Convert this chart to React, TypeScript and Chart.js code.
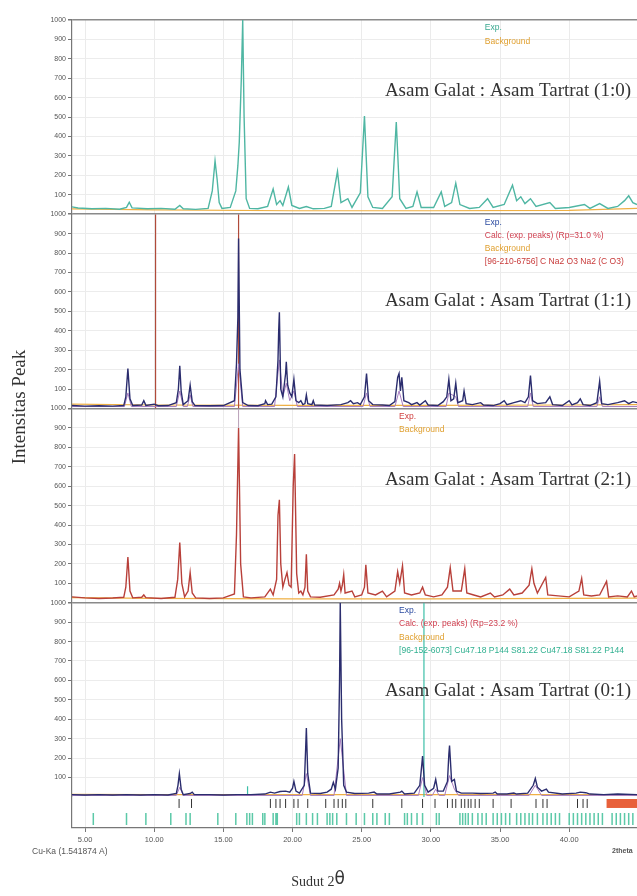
import React, { useEffect, useRef } from 'react';
import { Chart, registerables } from 'chart.js';

Chart.register(...registerables);

type P = [number, number];

// ---------- DATA (2θ, intensity) ----------
const xTickValues = [5, 10, 15, 20, 25, 30, 35, 40];
const yTickValues = [100, 200, 300, 400, 500, 600, 700, 800, 900, 1000];

const panelLabels = [
  'Asam Galat : Asam Tartrat (1:0)',
  'Asam Galat : Asam Tartrat (1:1)',
  'Asam Galat : Asam Tartrat (2:1)',
  'Asam Galat : Asam Tartrat (0:1)',
];

// Panel 1 (1:0)
const p1Exp: P[] = [
  [4.06, 38], [4.5, 32], [5.5, 28], [6.5, 30], [7.5, 26], [8.0, 35], [8.2, 62], [8.4, 33], [9.5, 28], [10.5, 30],
  [11.5, 26], [11.85, 45], [12.1, 28], [13.0, 25], [13.9, 30], [14.2, 120], [14.4, 275], [14.55, 180], [14.7, 60],
  [14.9, 30], [15.5, 35], [15.9, 120], [16.05, 250], [16.15, 370], [16.3, 700], [16.4, 1000], [16.5, 500], [16.65, 80],
  [16.9, 30], [17.5, 28], [18.2, 40], [18.6, 130], [18.85, 50], [19.1, 70], [19.3, 45], [19.7, 140], [19.95, 45],
  [20.5, 30], [21.0, 40], [21.5, 28], [22.3, 30], [22.8, 40], [23.25, 220], [23.5, 60], [24.0, 80], [24.3, 35],
  [24.9, 110], [25.2, 505], [25.45, 90], [25.8, 35], [26.5, 30], [27.2, 90], [27.5, 475], [27.75, 80], [28.2, 30],
  [28.7, 40], [29.0, 115], [29.3, 35], [30.2, 35], [30.75, 115], [31.0, 40], [31.5, 60], [31.8, 160], [32.1, 50],
  [32.8, 30], [33.5, 35], [34.1, 80], [34.5, 35], [35.3, 50], [35.9, 150], [36.2, 70], [36.5, 90], [36.8, 55],
  [37.2, 80], [37.6, 40], [38.6, 60], [39.0, 30], [40.0, 35], [41.1, 50], [41.5, 30], [42.2, 55], [42.8, 30],
  [43.5, 40], [44.0, 70], [44.3, 95], [44.6, 60], [44.9, 50],
];
const p1Bg: P[] = [[4.06, 28], [10, 22], [20, 18], [30, 18], [40, 20], [44.9, 30]];

// Panel 2 (1:1)
const p2Exp: P[] = [
  [4.06, 15], [5, 12], [6, 14], [7, 12], [7.8, 15], [7.95, 60], [8.1, 205], [8.25, 50], [8.45, 15], [9.1, 18],
  [9.25, 40], [9.4, 16], [10.0, 22], [10.3, 14], [11.0, 15], [11.6, 30], [11.75, 100], [11.85, 220], [11.95, 90],
  [12.1, 20], [12.45, 40], [12.6, 120], [12.75, 35], [12.95, 15], [14.0, 14], [15.0, 15], [15.8, 40], [15.95, 230],
  [16.05, 470], [16.1, 875], [16.2, 200], [16.4, 30], [16.8, 15], [17.5, 14], [18.0, 25], [18.05, 40], [18.2, 20],
  [18.5, 22], [18.8, 60], [18.95, 250], [19.0, 400], [19.05, 495], [19.15, 100], [19.3, 60], [19.5, 180], [19.55, 240],
  [19.65, 120], [19.8, 80], [19.95, 60], [20.1, 150], [20.25, 40], [20.45, 30], [20.6, 40], [20.75, 20], [20.9, 25],
  [21.0, 70], [21.1, 25], [21.4, 20], [21.5, 40], [21.6, 18], [22.5, 15], [23.5, 20], [24.0, 30], [24.2, 40],
  [24.4, 25], [24.7, 30], [24.9, 20], [25.2, 60], [25.35, 180], [25.5, 40], [25.8, 20], [26.5, 18], [27.0, 15],
  [27.4, 35], [27.6, 160], [27.7, 180], [27.8, 90], [27.9, 160], [28.05, 40], [28.4, 30], [28.6, 20], [29.0, 30],
  [29.2, 18], [29.6, 40], [29.8, 18], [30.5, 15], [30.9, 35], [31.15, 60], [31.3, 150], [31.45, 40], [31.65, 50],
  [31.8, 130], [31.95, 30], [32.3, 40], [32.4, 90], [32.55, 25], [33.0, 20], [33.6, 30], [33.8, 18], [34.5, 15],
  [35.0, 25], [35.3, 40], [35.5, 20], [36.0, 30], [36.5, 40], [36.8, 30], [37.05, 60], [37.2, 170], [37.35, 40],
  [37.7, 25], [38.3, 30], [38.6, 60], [38.8, 20], [39.5, 15], [40.0, 40], [40.2, 18], [40.6, 30], [40.8, 50],
  [41.0, 20], [41.5, 15], [42.0, 30], [42.2, 140], [42.35, 25], [42.8, 20], [43.5, 30], [44.0, 40], [44.3, 25],
  [44.6, 35], [44.9, 30],
];
const p2Calc: P[] = [
  [4.06, 10], [7.85, 10], [8.1, 80], [8.35, 10], [11.6, 10], [11.85, 90], [12.1, 10], [12.4, 10], [12.6, 70],
  [12.8, 10], [15.8, 10], [16.1, 230], [16.4, 10], [18.7, 10], [19.05, 250], [19.3, 60], [19.55, 130], [19.8, 40],
  [20.1, 90], [20.35, 10], [25.1, 10], [25.35, 80], [25.6, 10], [27.4, 10], [27.7, 90], [28.0, 10], [31.1, 10],
  [31.3, 80], [31.8, 60], [32.0, 10], [37.0, 10], [37.2, 80], [37.4, 10], [42.0, 10], [42.2, 60], [42.4, 10], [44.9, 10],
];
const p2Bg: P[] = [[4.06, 22], [10, 18], [20, 16], [30, 16], [40, 18], [44.9, 20]];
const p2RefLines = [10.1, 16.1];

// Panel 3 (2:1)
const p3Exp: P[] = [
  [4.06, 30], [5, 25], [6, 22], [7, 24], [7.8, 28], [7.95, 80], [8.1, 235], [8.25, 60], [8.45, 25], [9.1, 28],
  [9.25, 40], [9.4, 26], [10.5, 22], [11.5, 28], [11.7, 120], [11.85, 310], [12.0, 100], [12.2, 30], [12.45, 60],
  [12.6, 155], [12.75, 50], [13.0, 25], [14.0, 22], [15.0, 25], [15.8, 45], [15.95, 350], [16.1, 900], [16.25, 200],
  [16.45, 30], [17.0, 25], [18.0, 30], [18.4, 70], [18.6, 40], [18.85, 120], [18.95, 450], [19.05, 530], [19.15, 200],
  [19.3, 80], [19.45, 120], [19.6, 155], [19.75, 90], [19.9, 80], [20.05, 600], [20.15, 765], [20.3, 150], [20.45, 50],
  [20.6, 60], [20.75, 40], [20.9, 80], [21.0, 250], [21.1, 60], [21.3, 30], [22.0, 28], [23.0, 40], [23.3, 70],
  [23.4, 100], [23.5, 60], [23.6, 90], [23.7, 145], [23.8, 50], [24.3, 60], [24.5, 30], [25.0, 40], [25.2, 80],
  [25.3, 195], [25.45, 50], [26.0, 40], [26.5, 60], [26.8, 30], [27.4, 60], [27.6, 160], [27.75, 100], [27.95, 190],
  [28.1, 50], [28.6, 40], [29.2, 50], [29.4, 80], [29.6, 40], [30.2, 30], [30.8, 40], [31.2, 80], [31.4, 180],
  [31.6, 60], [32.2, 60], [32.45, 175], [32.6, 50], [33.1, 40], [33.6, 30], [34.3, 50], [34.6, 30], [35.2, 40],
  [35.7, 70], [36.0, 40], [36.6, 50], [37.1, 90], [37.3, 175], [37.45, 100], [37.7, 50], [38.3, 130], [38.45, 40],
  [39.2, 35], [40.0, 30], [40.7, 60], [40.9, 125], [41.05, 40], [41.6, 35], [42.2, 40], [42.7, 110], [42.85, 30],
  [43.5, 35], [44.2, 30], [44.5, 60], [44.7, 30], [44.9, 35],
];
const p3Bg: P[] = [[4.06, 26], [10, 22], [20, 20], [30, 20], [40, 22], [44.9, 24]];
const p3MarkLine: P[] = [[16.1, 900], [16.1, 1000]];

// Panel 4 (0:1)
const p4Exp: P[] = [
  [4.06, 12], [5, 10], [6, 12], [7, 10], [8, 12], [9, 10], [10, 12], [11, 10], [11.6, 18], [11.72, 60], [11.82, 120],
  [11.95, 40], [12.1, 12], [12.6, 18], [12.75, 25], [12.9, 12], [14, 12], [15, 10], [16, 12], [17, 12], [18.0, 15],
  [18.4, 25], [18.7, 20], [19.1, 28], [19.5, 30], [19.8, 25], [20.0, 45], [20.1, 80], [20.25, 30], [20.5, 20],
  [20.85, 60], [20.95, 250], [21.0, 355], [21.1, 120], [21.3, 20], [22.0, 18], [22.5, 25], [22.8, 40], [22.95, 75],
  [23.1, 40], [23.3, 150], [23.4, 600], [23.45, 1000], [23.55, 400], [23.7, 60], [23.9, 25], [24.5, 18], [25.5, 20],
  [25.9, 25], [26.1, 15], [27.0, 15], [27.8, 25], [27.9, 30], [28.1, 15], [28.8, 20], [29.2, 60], [29.35, 170],
  [29.4, 210], [29.55, 60], [29.8, 25], [30.2, 45], [30.35, 90], [30.5, 30], [30.9, 30], [31.2, 80], [31.3, 220],
  [31.35, 265], [31.5, 80], [31.7, 90], [31.85, 30], [32.2, 20], [33.0, 20], [33.6, 18], [34.5, 20], [34.65, 25],
  [34.8, 15], [35.5, 15], [36.0, 20], [36.2, 15], [37.0, 20], [37.4, 60], [37.55, 95], [37.7, 50], [38.0, 30],
  [38.35, 40], [38.5, 25], [39.5, 15], [40.5, 20], [40.8, 25], [41.2, 22], [41.5, 15], [42.5, 12], [43.5, 15], [44.9, 12],
];
const p4Calc: P[] = [
  [4.06, 8], [11.6, 8], [11.85, 50], [12.1, 8], [20.7, 8], [21.0, 120], [21.3, 8], [23.0, 8], [23.45, 300], [23.9, 8],
  [29.1, 8], [29.4, 100], [29.7, 8], [30.1, 8], [30.35, 40], [30.6, 8], [31.0, 8], [31.35, 110], [31.7, 40], [32.0, 8],
  [37.1, 8], [37.55, 60], [38.0, 8], [44.9, 8],
];
const p4Bg: P[] = [[4.06, 14], [10, 12], [20, 12], [30, 12], [40, 12], [44.9, 12]];
const p4RefLine: P[] = [[29.5, 0], [29.5, 1000]];
const p4RefSmall: P[] = [[16.75, 12], [16.75, 55]];

// Reference tick rows (2θ positions)
const refDarkTicks = [
  11.8, 12.7, 18.4, 18.8, 19.1, 19.5, 20.1, 20.4, 21.1, 22.4, 23.0, 23.3, 23.6, 23.85, 25.8, 27.9, 29.4, 30.3,
  31.2, 31.55, 31.8, 32.2, 32.45, 32.7, 32.9, 33.2, 33.5, 34.5, 35.8, 37.6, 38.1, 38.4, 40.6, 41.0, 41.3,
];
const refTealTicks = [
  5.6, 8.0, 9.4, 11.2, 12.3, 12.6, 14.6, 15.9, 16.7, 16.9, 17.1, 17.85, 18.0, 18.6, 18.8, 18.9, 20.3, 20.5, 21.0,
  21.45, 21.8, 22.5, 22.7, 22.9, 23.2, 23.9, 24.6, 25.2, 25.8, 26.1, 26.7, 27.0, 28.1, 28.3, 28.6, 29.0, 29.4,
  30.4, 30.6, 32.1, 32.3, 32.5, 32.7, 33.0, 33.4, 33.7, 34.0, 34.5, 34.8, 35.1, 35.4, 35.7, 36.2, 36.5, 36.8,
  37.1, 37.35, 37.7, 38.1, 38.4, 38.7, 39.0, 39.3, 40.0, 40.3, 40.6, 40.9, 41.2, 41.5, 41.8, 42.1, 42.4, 43.1,
  43.4, 43.7, 44.0, 44.3, 44.6,
];
const refBarRange = [42.7, 44.9];

// ---------- helpers ----------
const pts = (a: P[]) => a.map(([x, y]) => ({ x, y }));
const segs = (xs: number[], y0: number, y1: number) =>
  xs.flatMap((x) => [{ x, y: y0 }, { x, y: y1 }, { x, y: null as any }]);

const COLORS = {
  teal: '#4fb6a3',
  orange: '#efb045',
  navy: '#2b2d6e',
  calc: '#a77cc0',
  ref2: '#b04a3a',
  red: '#b8403a',
  refTeal: '#3cbfa8',
};

const legends = [
  { x: 33.9, items: [['Exp.', '#3aa890'], ['Background', '#e0a030']] },
  {
    x: 33.9,
    items: [
      ['Exp.', '#2a4aa0'],
      ['Calc. (exp. peaks) (Rp=31.0 %)', '#d04050'],
      ['Background', '#e0a030'],
      ['[96-210-6756] C Na2 O3 Na2 (C O3)', '#c83a3a'],
    ],
  },
  { x: 27.7, items: [['Exp.', '#d04040'], ['Background', '#e0a030']] },
  {
    x: 27.7,
    items: [
      ['Exp.', '#2a4aa0'],
      ['Calc. (exp. peaks) (Rp=23.2 %)', '#d04050'],
      ['Background', '#e0a030'],
      ['[96-152-6073] Cu47.18 P144 S81.22 Cu47.18 S81.22 P144', '#30b090'],
    ],
  },
];
const labelValues = [632, 551, 633, 546];

const textPlugin = {
  id: 'texts',
  afterDraw(chart: any) {
    const ctx = chart.ctx;
    const xs = chart.scales.x;
    const ids = ['y1', 'y2', 'y3', 'y4'];
    ctx.save();
    // panel labels
    ctx.font = '19px "Liberation Serif"';
    ctx.fillStyle = '#333';
    ctx.textAlign = 'right';
    ctx.textBaseline = 'middle';
    ids.forEach((id, i) => {
      const ys = chart.scales[id];
      ctx.fillText(panelLabels[i], 631, ys.getPixelForValue(labelValues[i]));
    });
    // legends
    ctx.font = '8.5px "Liberation Sans"';
    ctx.textAlign = 'left';
    ids.forEach((id, i) => {
      const ys = chart.scales[id];
      const lg = legends[i];
      lg.items.forEach(([t, c], k) => {
        ctx.fillStyle = c;
        ctx.fillText(t, xs.getPixelForValue(lg.x), ys.top + 8 + k * 13.3);
      });
    });
    // y title
    ctx.save();
    ctx.translate(20, 407);
    ctx.rotate(-Math.PI / 2);
    ctx.textAlign = 'center';
    ctx.fillStyle = '#333';
    ctx.font = '19px "Liberation Serif"';
    ctx.fillText('Intensitas Peak', 0, 0);
    ctx.restore();
    // x title
    ctx.fillStyle = '#333';
    ctx.textAlign = 'left';
    ctx.font = '14px "Liberation Serif"';
    const w1 = ctx.measureText('Sudut 2').width;
    ctx.font = '17px "DejaVu Sans"';
    const w2 = ctx.measureText('θ').width;
    const sx = 318 - (w1 + w2) / 2;
    ctx.font = '14px "Liberation Serif"';
    ctx.fillText('Sudut 2', sx, 882);
    ctx.font = '17px "DejaVu Sans"';
    ctx.fillText('θ', sx + w1, 880);
    // small axis notes
    ctx.font = '8.5px "Liberation Sans"';
    ctx.fillStyle = '#555';
    ctx.fillText('Cu-Ka (1.541874 A)', 32, 852);
    ctx.font = 'bold 7px "Liberation Sans"';
    ctx.fillText('2theta', 612, 851);
    ctx.restore();
  },
};

const yAxis = (weight: number) => ({
  type: 'linear',
  position: 'left',
  stack: 'panels',
  stackWeight: weight,
  min: 0,
  max: 1000,
  afterBuildTicks: (s: any) => {
    s.ticks = yTickValues.map((v) => ({ value: v }));
  },
  afterFit: (s: any) => {
    s.width = 50;
  },
  ticks: {
    font: { family: 'Liberation Sans', size: 7 },
    color: '#555',
    padding: 2,
    callback: (v: any) => String(v),
  },
  grid: {
    color: (c: any) => (c.tick && c.tick.value === 1000 ? '#8a8a8a' : '#ececec'),
    lineWidth: (c: any) => (c.tick && c.tick.value === 1000 ? 1.5 : 1),
    tickLength: 4,
    tickColor: '#777',
  },
  border: { color: '#777', width: 1.2 },
});

const line = (data: any[], yAxisID: string, color: string, width = 1.1) => ({
  data,
  yAxisID,
  borderColor: color,
  backgroundColor: color,
  borderWidth: width,
  pointRadius: 0,
  spanGaps: false,
  tension: 0,
  fill: false,
});

export default function App() {
  const ref = useRef<HTMLCanvasElement>(null);
  useEffect(() => {
    if (!ref.current) return;
    const chart = new Chart(ref.current, {
      type: 'line',
      data: {
        datasets: [
          line(pts(p1Exp), 'y1', COLORS.teal, 1.4),
          line(pts(p1Bg), 'y1', COLORS.orange, 1.2),
          line(pts(p2Exp), 'y2', COLORS.navy, 1.4),
          line(pts(p2Calc), 'y2', COLORS.calc, 1),
          line(segs(p2RefLines, 0, 1000), 'y2', COLORS.ref2, 1.2),
          line(pts(p2Bg), 'y2', COLORS.orange, 1.2),
          line(pts(p3Exp), 'y3', COLORS.red, 1.4),
          line(pts(p3MarkLine), 'y3', '#b9a0b8', 1),
          line(pts(p3Bg), 'y3', COLORS.orange, 1.2),
          line(pts(p4Exp), 'y4', COLORS.navy, 1.4),
          line(pts(p4Calc), 'y4', COLORS.calc, 1),
          line(pts(p4RefLine), 'y4', COLORS.refTeal, 1.2),
          line(pts(p4RefSmall), 'y4', COLORS.refTeal, 1.2),
          line(pts(p4Bg), 'y4', COLORS.orange, 1.2),
          line(segs(refDarkTicks, 20, 29), 'yRef', '#333', 1),
          line(segs(refTealTicks, 3, 15), 'yRef', '#5cc9a8', 1.5),
          { ...line(refBarRange.map((x) => ({ x, y: 24.5 })), 'yRef', '#e8603a', 9), borderCapStyle: 'butt' },
        ] as any,
      },
      options: {
        animation: false,
        responsive: false,
        events: [],
        layout: { padding: { top: 20, left: 22, right: 0, bottom: 0 } },
        plugins: { legend: { display: false }, tooltip: { enabled: false }, title: { display: false } },
        scales: {
          x: {
            type: 'linear',
            position: 'bottom',
            min: 4.06,
            max: 44.9,
            afterBuildTicks: (s: any) => {
              s.ticks = xTickValues.map((v) => ({ value: v }));
            },
            afterFit: (s: any) => {
              s.height = 68;
            },
            ticks: {
              font: { family: 'Liberation Sans', size: 7.5 },
              color: '#555',
              padding: 3,
              maxRotation: 0,
              callback: (v: any) => Number(v).toFixed(2),
            },
            grid: { color: '#ebebeb', tickLength: 4, tickColor: '#777' },
            border: { color: '#777', width: 1.2 },
          },
          yRef: {
            type: 'linear',
            position: 'left',
            stack: 'panels',
            stackWeight: 31,
            min: 0,
            max: 31,
            afterFit: (s: any) => {
              s.width = 50;
            },
            ticks: { display: false },
            grid: { display: false },
            border: { color: '#777', width: 1.2 },
          },
          y4: yAxis(194),
          y3: yAxis(194),
          y2: yAxis(194),
          y1: yAxis(194),
        } as any,
      },
      plugins: [textPlugin],
    });
    return () => chart.destroy();
  }, []);
  return (
    <div style={{ position: 'absolute', left: 0, top: 0, width: 637, height: 896, background: '#fff' }}>
      <canvas ref={ref} width={637} height={896} style={{ display: 'block' }} />
    </div>
  );
}
